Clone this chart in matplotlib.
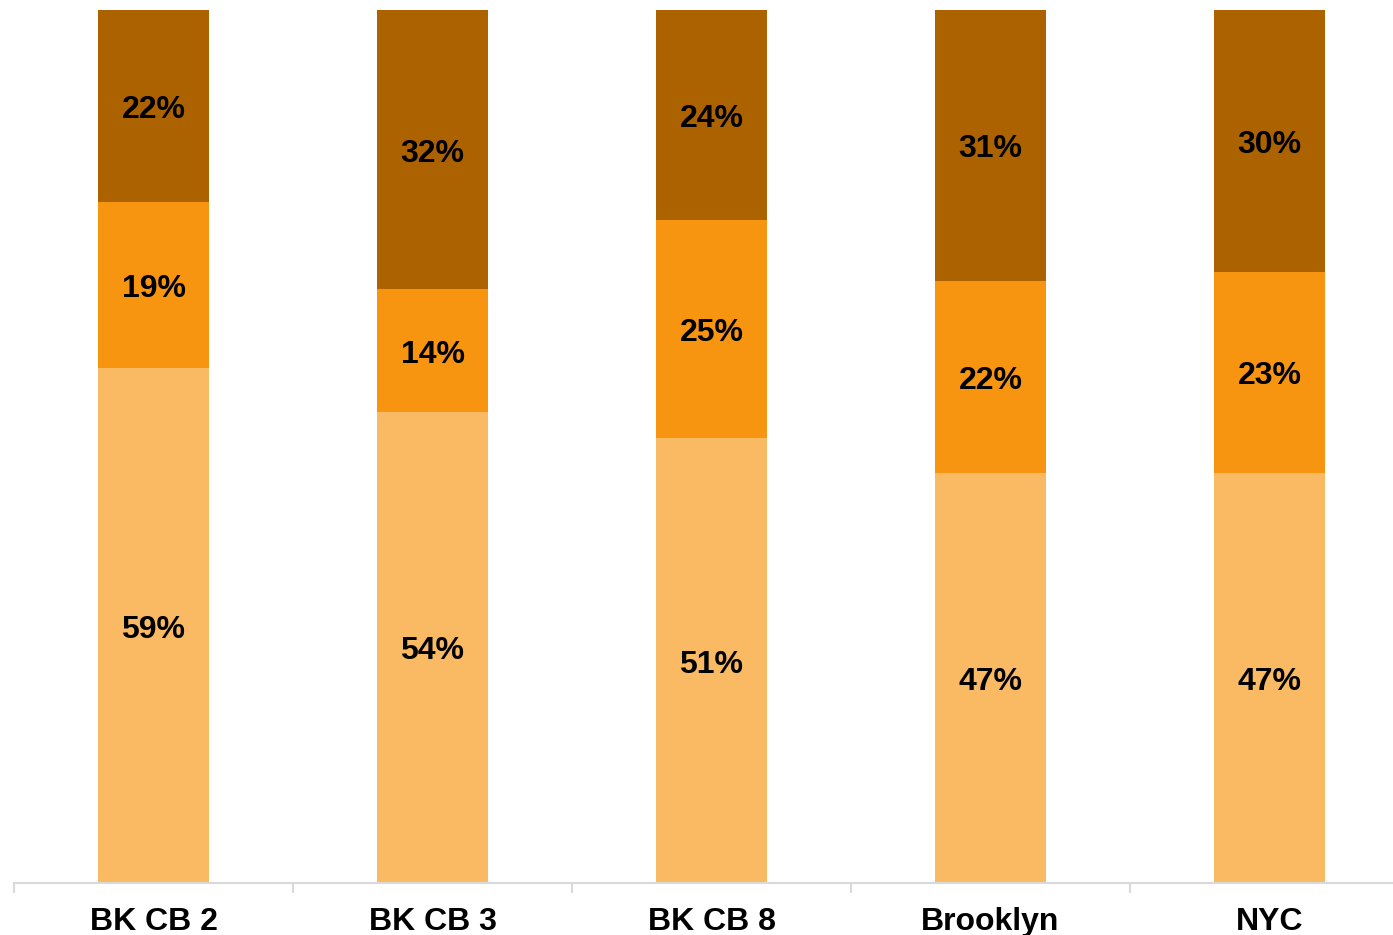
import matplotlib
matplotlib.use("Agg")
import matplotlib.pyplot as plt
import numpy as np

categories = ["BK CB 2", "BK CB 3", "BK CB 8", "Brooklyn", "NYC"]
bottom_share = [59, 54, 51, 47, 47]
middle_share = [19, 14, 25, 22, 23]
top_share = [22, 32, 24, 31, 30]

colors = ["#FABA64", "#F79410", "#AD6200"]

plt.rcParams["font.family"] = ["Liberation Sans", "DejaVu Sans"]

W, H = 1393, 935
fig = plt.figure(figsize=(W / 100, H / 100), dpi=100)
left_px, right_px, top_px, axis_px = 14, 1409, 10, 883
ax = fig.add_axes([left_px / W, (H - axis_px) / H,
                   (right_px - left_px) / W, (axis_px - top_px) / H])

x = np.arange(len(categories))
width = 0.40
base = np.zeros(len(categories))
for series, col in zip([bottom_share, middle_share, top_share], colors):
    vals = np.array(series, dtype=float)
    ax.bar(x, vals, width, bottom=base, color=col, edgecolor="none")
    for xi, b, v in zip(x, base, vals):
        ax.annotate(f"{int(v)}%", (xi, b + v / 2), xytext=(0, -3),
                    textcoords="offset points", ha="center", va="center",
                    fontsize=23, fontweight="bold", color="black")
    base += vals

ax.set_xlim(-0.5, len(categories) - 0.5)
ax.set_ylim(0, 100)
ax.set_yticks([])
for s in ["top", "right", "left"]:
    ax.spines[s].set_visible(False)
ax.spines["bottom"].set_color("#D9D9D9")
ax.spines["bottom"].set_linewidth(1.5)

ax.set_xticks(x)
ax.set_xticklabels(categories, fontsize=23, fontweight="bold")
ax.tick_params(axis="x", which="major", length=0, pad=17.5)
ax.set_xticks(np.arange(-0.5, len(categories), 1.0), minor=True)
ax.tick_params(axis="x", which="minor", length=7, width=1.5, color="#D9D9D9")

fig.savefig("out.png", dpi=100)
